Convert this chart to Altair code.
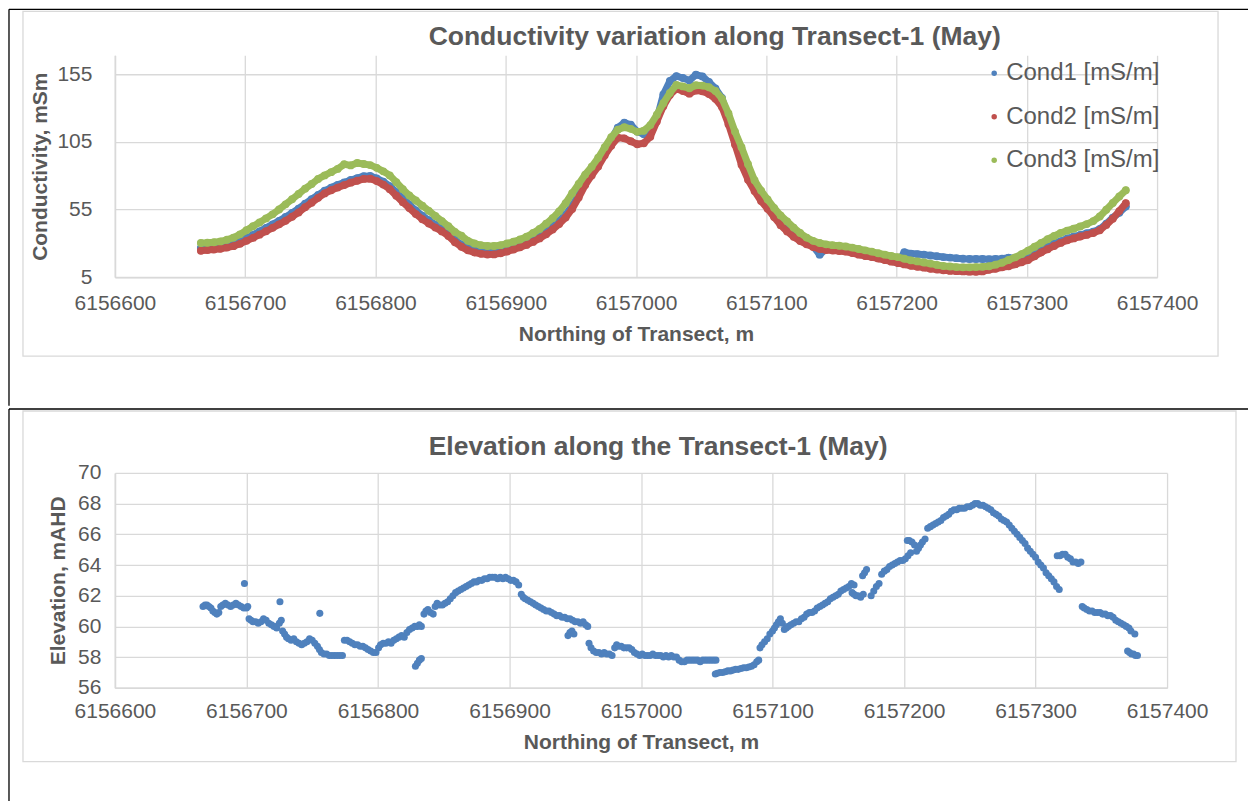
import altair as alt
import pandas as pd

FONT = "Liberation Sans"
TEXT = "#595959"
GRID = "#d9d9d9"
BLUE, RED, GREEN = "#4F81BD", "#C0504D", "#9BBB59"

# ---------------------------------------------------------------- conductivity
northing_cond = [
    6156666, 6156671, 6156676, 6156681, 6156686, 6156691, 6156696, 6156701, 6156706, 6156711,
    6156716, 6156721, 6156726, 6156731, 6156736, 6156741, 6156746, 6156751, 6156756, 6156761,
    6156766, 6156771, 6156776, 6156781, 6156786, 6156791, 6156796, 6156801, 6156806, 6156811,
    6156816, 6156821, 6156826, 6156831, 6156836, 6156841, 6156846, 6156851, 6156856, 6156861,
    6156866, 6156871, 6156876, 6156881, 6156886, 6156891, 6156896, 6156901, 6156906, 6156911,
    6156916, 6156921, 6156926, 6156931, 6156936, 6156941, 6156946, 6156951, 6156956, 6156961,
    6156966, 6156971, 6156976, 6156981, 6156986, 6156991, 6156996, 6157001, 6157006, 6157011,
    6157016, 6157021, 6157026, 6157031, 6157036, 6157041, 6157046, 6157051, 6157056, 6157061,
    6157066, 6157071, 6157076, 6157081, 6157086, 6157091, 6157096, 6157101, 6157106, 6157111,
    6157116, 6157121, 6157126, 6157131, 6157136, 6157141, 6157146, 6157151, 6157156, 6157161,
    6157166, 6157171, 6157176, 6157181, 6157186, 6157191, 6157196, 6157201, 6157206, 6157211,
    6157216, 6157221, 6157226, 6157231, 6157236, 6157241, 6157246, 6157251, 6157256, 6157261,
    6157266, 6157271, 6157276, 6157281, 6157286, 6157291, 6157296, 6157301, 6157306, 6157311,
    6157316, 6157321, 6157326, 6157331, 6157336, 6157341, 6157346, 6157351, 6157356, 6157361,
    6157366, 6157371, 6157376,
]

cond1 = [
    26.5, 27.0, 27.4, 28.0, 28.8, 30.0, 31.6, 33.8, 36.2, 38.8,
    41.4, 44.0, 46.6, 49.4, 52.4, 55.6, 59.2, 62.6, 65.8, 68.8,
    71.2, 73.2, 75.0, 76.8, 78.2, 79.6, 79.8, 78.0, 75.6, 72.2,
    67.8, 63.2, 58.6, 54.2, 50.4, 47.0, 43.8, 40.8, 37.2, 32.8,
    29.0, 26.4, 24.8, 23.8, 23.4, 23.6, 24.2, 25.4, 27.0, 28.6,
    30.6, 32.8, 35.6, 38.8, 42.4, 46.6, 51.2, 57.6, 66.0, 75.2,
    82.6, 89.6, 98.4, 107.0, 115.4, 119.2, 117.6, 112.6, 110.6, 111.4,
    122.0, 140.0, 150.0, 153.6, 152.2, 150.4, 154.6, 153.4, 149.2, 144.4,
    137.4, 122.6, 106.4, 91.0, 79.4, 70.6, 63.0, 57.2, 51.0, 45.0,
    40.4, 36.0, 32.6, 30.0, 27.8, 21.6, 25.8, 25.2, 24.8, 24.2,
    23.2, 22.0, 21.0, 20.2, 19.0, 18.0, 16.8, 15.8, 23.4, 22.4,
    22.0, 21.6, 21.0, 20.4, 19.8, 19.4, 19.0, 18.6, 18.4, 18.4,
    18.4, 18.2, 18.4, 18.6, 19.4, 19.0, 19.8, 20.6, 22.6, 25.2,
    27.4, 29.8, 31.6, 33.6, 35.0, 36.2, 37.4, 38.6, 40.6, 44.4,
    49.0, 52.6, 57.2,
]

cond2 = [
    24.5, 25.0, 25.4, 26.0, 26.8, 27.9, 29.6, 31.8, 34.0, 36.4,
    38.9, 41.4, 44.0, 46.6, 49.6, 52.8, 56.6, 60.0, 63.6, 66.9,
    69.2, 71.2, 73.0, 74.8, 76.2, 77.6, 77.8, 76.0, 73.4, 70.0,
    65.2, 60.4, 56.0, 51.6, 47.8, 44.6, 41.6, 38.8, 35.4, 30.8,
    27.4, 24.8, 23.2, 22.2, 21.7, 21.8, 22.6, 23.9, 25.4, 27.0,
    28.8, 31.0, 33.6, 36.6, 40.2, 44.2, 49.0, 55.4, 63.8, 73.0,
    80.2, 86.8, 95.0, 102.2, 108.0, 107.6, 105.4, 103.2, 104.0, 108.8,
    120.0, 131.4, 139.6, 144.2, 142.6, 140.6, 143.0, 142.4, 140.4, 136.8,
    130.8, 118.0, 103.0, 88.0, 77.0, 68.6, 61.2, 55.6, 49.4, 43.4,
    38.8, 34.8, 31.6, 29.2, 27.2, 25.8, 25.0, 24.6, 24.3, 23.8,
    22.8, 21.6, 20.6, 19.8, 18.7, 17.6, 16.4, 15.4, 14.4, 13.4,
    12.6, 12.0, 11.2, 10.6, 10.0, 9.6, 9.4, 9.2, 9.0, 8.9,
    9.2, 10.4, 11.2, 12.2, 13.0, 14.4, 16.0, 17.6, 20.4, 23.2,
    25.6, 28.0, 30.3, 32.2, 33.6, 35.0, 36.2, 37.6, 39.6, 43.6,
    48.2, 53.8, 59.6,
]

cond3 = [
    30.2, 30.4, 30.8, 31.4, 32.6, 34.2, 36.6, 39.6, 42.6, 45.4,
    48.4, 51.4, 55.0, 58.8, 62.6, 66.4, 70.4, 73.8, 77.6, 80.2,
    82.6, 85.0, 88.4, 87.6, 89.4, 88.6, 87.8, 85.8, 83.2, 80.2,
    75.2, 70.0, 65.4, 61.6, 57.8, 54.0, 50.2, 46.4, 42.6, 38.4,
    35.6, 31.8, 29.8, 28.6, 28.0, 28.0, 28.6, 29.8, 31.2, 32.8,
    34.8, 37.6, 40.6, 44.4, 48.6, 53.6, 59.6, 67.0, 73.8, 80.8,
    86.6, 93.2, 101.0, 108.4, 114.0, 115.8, 114.6, 112.4, 113.2, 117.4,
    125.0, 133.6, 141.2, 147.0, 146.0, 144.6, 146.8, 146.6, 145.4, 142.6,
    137.0, 126.0, 112.6, 101.0, 88.4, 76.6, 69.0, 62.4, 56.2, 50.6,
    46.2, 41.6, 37.6, 34.2, 31.8, 30.2, 29.2, 28.6, 28.2, 27.6,
    26.8, 25.8, 24.8, 23.8, 22.6, 21.6, 20.6, 19.8, 18.6, 17.4,
    16.6, 15.8, 15.0, 14.0, 13.2, 12.8, 12.4, 12.2, 12.2, 12.4,
    12.6, 13.0, 14.2, 15.6, 17.6, 19.6, 22.0, 24.6, 27.4, 30.2,
    33.0, 35.4, 37.6, 39.4, 40.8, 42.4, 44.2, 46.4, 49.8, 54.8,
    59.8, 64.6, 69.2,
]

series_names = ["Cond1 [mS/m]", "Cond2 [mS/m]", "Cond3 [mS/m]"]
series_colors = [BLUE, RED, GREEN]

# ------------------------------------------------------------------- elevation
elev_northing = [
    6156667.0, 6156668.5, 6156670.0, 6156671.5, 6156673.0, 6156674.5, 6156676.0, 6156677.5,
    6156679.0, 6156680.5, 6156682.0, 6156684.0, 6156686.0, 6156688.0, 6156690.0, 6156692.0,
    6156694.0, 6156696.0, 6156698.0, 6156700.0, 6156701.0, 6156698.5,
    6156702.0, 6156703.5, 6156705.0, 6156707.0, 6156709.0, 6156711.0, 6156713.0, 6156715.0,
    6156717.0, 6156719.0, 6156721.0, 6156723.0, 6156725.0, 6156726.5, 6156725.5,
    6156727.5, 6156729.0, 6156730.5, 6156732.0, 6156734.0, 6156736.0, 6156738.0, 6156740.0,
    6156742.0, 6156744.0, 6156746.0, 6156748.0, 6156750.0, 6156752.0, 6156754.0, 6156755.5,
    6156757.0, 6156759.0, 6156761.0, 6156763.0, 6156765.0, 6156767.0, 6156769.0, 6156771.0,
    6156773.0, 6156755.8,
    6156774.5, 6156776.5, 6156778.5, 6156780.5, 6156782.5, 6156784.5, 6156786.5, 6156788.5,
    6156790.5, 6156792.5, 6156794.5, 6156796.5, 6156798.5, 6156800.5, 6156802.0, 6156804.0,
    6156806.0, 6156808.0, 6156810.0, 6156812.0, 6156814.0, 6156816.0, 6156818.0, 6156820.0,
    6156822.0, 6156824.0, 6156826.0, 6156828.0, 6156830.0, 6156831.5, 6156833.0,
    6156828.5, 6156830.0, 6156831.5, 6156833.0,
    6156835.0, 6156836.5, 6156838.0, 6156840.0, 6156842.0, 6156843.5, 6156845.0, 6156847.0,
    6156849.0, 6156851.0, 6156853.0, 6156855.0, 6156857.0, 6156859.0, 6156861.0, 6156863.0,
    6156865.0, 6156867.0, 6156869.0, 6156871.0, 6156873.0, 6156875.0, 6156877.0, 6156879.0,
    6156881.0, 6156883.0, 6156885.0, 6156887.0, 6156889.0, 6156891.0, 6156893.0, 6156895.0,
    6156897.0, 6156899.0, 6156901.0, 6156903.0, 6156905.0, 6156907.0,
    6156909.0, 6156910.5, 6156912.0, 6156914.0, 6156916.0, 6156918.0, 6156920.0, 6156922.0,
    6156924.0, 6156926.0, 6156928.0, 6156930.0, 6156932.0, 6156934.0, 6156936.0, 6156938.0,
    6156940.0, 6156942.0, 6156944.0, 6156946.0, 6156948.0, 6156950.0, 6156952.0, 6156954.0,
    6156956.0, 6156958.0, 6156959.5,
    6156944.5, 6156946.0, 6156947.5, 6156949.0,
    6156960.5, 6156962.0, 6156964.0, 6156966.0, 6156968.0, 6156970.0, 6156972.0, 6156974.0,
    6156976.0, 6156978.0, 6156980.0, 6156981.5, 6156983.0, 6156985.0, 6156987.0, 6156989.0,
    6156991.0, 6156993.0,
    6156995.0, 6156997.0, 6156999.0, 6157001.0, 6157003.0, 6157005.0, 6157007.0, 6157009.0,
    6157011.0, 6157013.0, 6157015.0, 6157017.0, 6157019.0, 6157021.0, 6157023.0, 6157025.0,
    6157027.0,
    6157029.0, 6157031.0, 6157033.0, 6157035.0, 6157037.0, 6157039.0, 6157041.0, 6157043.0,
    6157045.0, 6157047.0, 6157049.0, 6157051.0, 6157053.0, 6157055.0, 6157057.0,
    6157056.5, 6157058.0, 6157060.0, 6157062.0, 6157064.0, 6157066.0, 6157068.0, 6157070.0,
    6157072.0, 6157074.0, 6157076.0, 6157078.0, 6157080.0, 6157082.0, 6157084.0, 6157086.0,
    6157088.0, 6157089.5,
    6157090.5, 6157092.0, 6157094.0, 6157096.0, 6157098.0, 6157100.0, 6157101.5, 6157103.0,
    6157104.5, 6157106.0, 6157107.5, 6157109.0, 6157110.5, 6157112.0, 6157114.0, 6157116.0,
    6157118.0, 6157120.0, 6157122.0, 6157124.0, 6157126.0, 6157128.0, 6157130.0, 6157132.0,
    6157134.0, 6157136.0, 6157138.0, 6157140.0, 6157142.0, 6157144.0, 6157146.0, 6157148.0,
    6157150.0, 6157152.0, 6157154.0, 6157156.0, 6157158.0, 6157160.0, 6157162.0,
    6157160.5, 6157162.0, 6157163.5, 6157165.0, 6157167.0, 6157169.0, 6157168.5, 6157170.0,
    6157171.5, 6157175.0, 6157177.0, 6157179.0, 6157181.0,
    6157183.0, 6157185.0, 6157187.0, 6157189.0, 6157191.0, 6157193.0, 6157195.0, 6157197.0,
    6157199.0, 6157201.0, 6157203.0, 6157205.0, 6157202.5, 6157204.0, 6157206.0, 6157208.0,
    6157209.5, 6157211.0, 6157212.5, 6157214.0, 6157216.0,
    6157218.0, 6157220.0, 6157222.0, 6157224.0, 6157226.0, 6157228.0, 6157230.0, 6157232.0,
    6157234.0, 6157236.0, 6157238.0, 6157240.0, 6157242.0, 6157244.0, 6157246.0, 6157248.0,
    6157250.0, 6157252.0, 6157254.0, 6157256.0, 6157258.0, 6157260.0, 6157262.0, 6157264.0,
    6157266.0, 6157268.0, 6157270.0, 6157272.0, 6157274.0, 6157276.0, 6157278.0, 6157280.0,
    6157282.0, 6157284.0, 6157286.0, 6157288.0, 6157290.0, 6157292.0, 6157294.0, 6157296.0,
    6157298.0, 6157300.0, 6157302.0, 6157304.0, 6157306.0, 6157308.0, 6157310.0, 6157312.0,
    6157314.0, 6157316.0, 6157318.0,
    6157316.5, 6157318.5, 6157320.5, 6157322.5, 6157324.5, 6157326.5, 6157328.5, 6157330.5,
    6157332.5, 6157334.5,
    6157335.5, 6157337.0, 6157339.0, 6157341.0, 6157343.0, 6157345.0, 6157347.0, 6157349.0,
    6157351.0, 6157353.0, 6157355.0, 6157357.0, 6157359.0, 6157361.0, 6157363.0, 6157365.0,
    6157367.0, 6157369.0, 6157371.0, 6157372.5, 6157375.5,
    6157370.0, 6157371.5, 6157373.0, 6157374.5, 6157376.0, 6157377.5,
]

elevation = [
    61.3, 61.4, 61.4, 61.3, 61.2, 61.0, 60.9, 60.8,
    60.9, 61.3, 61.4, 61.5, 61.4, 61.3, 61.4, 61.5,
    61.4, 61.3, 61.2, 61.2, 61.3, 62.8,
    60.5, 60.4, 60.3, 60.3, 60.2, 60.3, 60.5, 60.4,
    60.2, 60.1, 60.0, 59.9, 60.2, 60.4, 61.6,
    59.7, 59.5, 59.3, 59.2, 59.1, 59.2, 59.0, 58.9,
    58.8, 58.9, 59.0, 59.2, 59.1, 58.9, 58.7, 58.5,
    58.3, 58.2, 58.2, 58.1, 58.1, 58.1, 58.1, 58.1,
    58.1, 60.85,
    59.1, 59.1, 59.0, 58.9, 58.8, 58.8, 58.7, 58.7,
    58.6, 58.5, 58.4, 58.3, 58.3, 58.6, 58.8, 58.9,
    58.9, 59.0, 58.9, 59.1, 59.2, 59.3, 59.4, 59.3,
    59.6, 59.8, 59.9, 60.0, 60.0, 60.1, 60.0,
    57.4, 57.6, 57.8, 57.9,
    60.8, 61.0, 61.1, 60.9, 60.8, 61.3, 61.5, 61.4,
    61.4, 61.5, 61.6, 61.8, 62.0, 62.2, 62.3, 62.4,
    62.5, 62.6, 62.7, 62.8, 62.9, 62.9, 63.0, 63.0,
    63.1, 63.1, 63.2, 63.2, 63.2, 63.1, 63.2, 63.1,
    63.2, 63.1, 63.0, 63.0, 62.9, 62.7,
    62.1, 61.9, 61.8, 61.7, 61.6, 61.5, 61.4, 61.3,
    61.2, 61.1, 61.0, 61.0, 60.9, 60.8, 60.7, 60.7,
    60.6, 60.6, 60.5, 60.5, 60.4, 60.3, 60.3, 60.2,
    60.3, 60.1, 60.0,
    59.4, 59.6, 59.7, 59.5,
    58.9, 58.6, 58.4, 58.3, 58.3, 58.2, 58.3, 58.2,
    58.2, 58.1, 58.6, 58.8, 58.7, 58.7, 58.6, 58.6,
    58.6, 58.5,
    58.3, 58.2, 58.1, 58.2, 58.1, 58.1, 58.1, 58.2,
    58.1, 58.1, 58.1, 58.0, 58.1, 58.0, 58.1, 58.0,
    58.0,
    57.8, 57.7, 57.7, 57.8, 57.8, 57.8, 57.8, 57.8,
    57.7, 57.8, 57.8, 57.8, 57.8, 57.8, 57.8,
    56.9, 56.95, 57.0, 57.0, 57.05, 57.1, 57.1, 57.15,
    57.2, 57.2, 57.25, 57.3, 57.3, 57.35, 57.4, 57.5,
    57.7, 57.8,
    58.6, 58.8, 59.0, 59.2, 59.5, 59.7, 59.9, 60.1,
    60.3, 60.5, 60.2, 59.8, 59.9, 60.0, 60.1, 60.2,
    60.3, 60.3, 60.5, 60.6, 60.8, 60.9, 60.9, 61.0,
    61.2, 61.3, 61.4, 61.5, 61.6, 61.8, 61.9, 62.0,
    62.1, 62.3, 62.4, 62.5, 62.6, 62.8, 62.7,
    62.2, 62.1, 62.0, 62.0, 61.9, 62.1, 63.3, 63.5,
    63.7, 62.0, 62.3, 62.6, 62.8,
    63.4, 63.6, 63.7, 63.9, 64.0, 64.1, 64.2, 64.3,
    64.3, 64.4, 64.6, 64.8, 65.6, 65.6, 65.5, 65.3,
    64.9, 65.1, 65.3, 65.5, 65.7,
    66.4, 66.5, 66.6, 66.7, 66.8, 66.9, 67.1, 67.2,
    67.3, 67.5, 67.6, 67.6, 67.7, 67.7, 67.7, 67.8,
    67.8, 67.9, 68.0, 68.0, 67.9, 67.9, 67.8, 67.7,
    67.6, 67.4, 67.3, 67.2, 67.0, 66.9, 66.8, 66.6,
    66.4, 66.2, 66.0, 65.8, 65.6, 65.4, 65.1, 64.9,
    64.7, 64.5, 64.2, 64.0, 63.8, 63.5, 63.3, 63.1,
    62.9, 62.6, 62.4,
    64.6, 64.6, 64.7, 64.7, 64.5, 64.4, 64.2, 64.2,
    64.1, 64.2,
    61.3, 61.2, 61.1, 61.0, 61.0, 60.9, 60.9, 60.9,
    60.8, 60.8, 60.7, 60.7, 60.6, 60.4, 60.3, 60.2,
    60.1, 60.0, 59.9, 59.7, 59.5,
    58.4, 58.3, 58.2, 58.2, 58.1, 58.1,
]

x_ticks = [6156600, 6156700, 6156800, 6156900, 6157000, 6157100, 6157200, 6157300, 6157400]
cond_ticks = [5, 55, 105, 155]
elev_ticks = [56, 58, 60, 62, 64, 66, 68, 70]

# ------------------------------------------------------------------ tables
cond_df = pd.concat(
    [
        pd.DataFrame({"northing": northing_cond, "value": vals, "series": name})
        for name, vals in zip(series_names, [cond1, cond2, cond3])
    ],
    ignore_index=True,
)
elev_df = pd.DataFrame({"northing": elev_northing, "elevation": elevation})
one_row = alt.Data(values=[{"k": 0}])


def x_axis(title_y, label_pad):
    return alt.Axis(
        values=x_ticks, format="d", title="Northing of Transect, m",
        grid=True, gridColor=GRID, gridWidth=1.3,
        domainColor=GRID, domainWidth=1.6, ticks=False, tickSize=0,
        labelFont=FONT, labelFontSize=21, labelColor=TEXT, labelPadding=label_pad,
        labelBaseline="alphabetic", labelFlush=False, labelOverlap=False,
        titleFont=FONT, titleFontSize=21, titleFontWeight="bold", titleColor=TEXT,
        titleBaseline="alphabetic", titleY=title_y,
    )


def y_axis(values, title, label_pad, title_x, title_y):
    return alt.Axis(
        values=values, title=title,
        grid=True, gridColor=GRID, gridWidth=1.3,
        domainColor=GRID, domainWidth=1.6, ticks=False, tickSize=0,
        labelFont=FONT, labelFontSize=21, labelColor=TEXT, labelPadding=label_pad,
        labelFlush=False, labelOverlap=False,
        titleFont=FONT, titleFontSize=21, titleFontWeight="bold", titleColor=TEXT,
        titleBaseline="alphabetic", titleAngle=270, titleX=title_x, titleY=title_y,
    )


def decorations(frame, left_rule, top_rule, title, title_pos):
    """Chart-area frame, page border rules and the chart title."""
    fx1, fx2, fy1, fy2 = frame
    box = alt.Chart(one_row).mark_rect(
        fill="transparent", stroke=GRID, strokeWidth=1.3
    ).encode(x=alt.value(fx1), x2=alt.value(fx2), y=alt.value(fy1), y2=alt.value(fy2))
    lx, ly1, ly2 = left_rule
    left = alt.Chart(one_row).mark_rule(color="black", strokeWidth=1.3).encode(
        x=alt.value(lx), y=alt.value(ly1), y2=alt.value(ly2))
    tx1, tx2, ty = top_rule
    top = alt.Chart(one_row).mark_rule(color="black", strokeWidth=1.3).encode(
        x=alt.value(tx1), x2=alt.value(tx2), y=alt.value(ty))
    head = alt.Chart(one_row).mark_text(
        text=title, align="left", baseline="alphabetic", font=FONT,
        fontSize=26.5, fontWeight="bold", color=TEXT,
    ).encode(x=alt.value(title_pos[0]), y=alt.value(title_pos[1]))
    return [box, left, top, head]


# Both panels share the same left edge for their plot areas and the same
# overall extent, so the stacked layout is identical however it is aligned.

# ------------------------------------------------------------ conductivity view
TOP_W, TOP_H = 1043, 222
x_top = alt.X("northing:Q", scale=alt.Scale(domain=[6156600, 6157400], nice=False, zero=False),
              axis=x_axis(63, 32))
y_top = alt.Y("value:Q", scale=alt.Scale(domain=[5, 169], nice=False, zero=False),
              axis=y_axis(cond_ticks, "Conductivity, mSm", 23, -68, TOP_H / 2))
color_enc = alt.Color(
    "series:N",
    scale=alt.Scale(domain=series_names, range=series_colors),
    legend=alt.Legend(
        title=None, orient="none", legendX=868, legendY=6, symbolType="circle",
        symbolSize=30, symbolStrokeWidth=0, labelFont=FONT, labelFontSize=24,
        labelColor=TEXT, rowPadding=19.5, labelOffset=0, padding=0,
    ),
)

series_layers = []
for name, col in zip(series_names, series_colors):
    base = alt.Chart(cond_df).transform_filter(alt.datum.series == name)
    series_layers.append(
        base.mark_line(color=col, strokeWidth=7, strokeCap="round", strokeJoin="round")
        .encode(x=x_top, y=y_top)
    )
    series_layers.append(
        base.mark_circle(size=62, opacity=1).encode(x=x_top, y=y_top, color=color_enc)
    )

top_chart = alt.layer(
    *decorations((-92, 1104, -44, 301), (-106, -46, 350.7), (-106, 1134, -46),
                 "Conductivity variation along Transect-1 (May)", (314, -10.7)),
    *series_layers,
).properties(width=TOP_W, height=TOP_H)

# -------------------------------------------------------------- elevation view
BOT_W, BOT_H = 1053, 215
x_bot = alt.X("northing:Q", scale=alt.Scale(domain=[6156600, 6157400], nice=False, zero=False),
              axis=x_axis(61, 30))
y_bot = alt.Y("elevation:Q", scale=alt.Scale(domain=[56, 70], nice=False, zero=False),
              axis=y_axis(elev_ticks, "Elevation, mAHD", 14, -50, BOT_H / 2))

elev_points = alt.Chart(elev_df).mark_circle(size=50, opacity=1, color=BLUE).encode(
    x=x_bot, y=y_bot)

bottom_chart = alt.layer(
    *decorations((-92, 1122, -62, 289), (-106, -64, 329), (-106, 1134, -64),
                 "Elevation along the Transect-1 (May)", (314, -18.3)),
    elev_points,
).properties(width=BOT_W, height=BOT_H)

chart = alt.vconcat(top_chart, bottom_chart, spacing=0).properties(
    padding={"left": 7, "top": 7, "right": 0, "bottom": 0},
    background="white",
).configure(
    font=FONT,
    view=alt.ViewConfig(stroke="transparent"),
)

chart.save("out.html", embed_options={"renderer": "svg", "actions": False})
